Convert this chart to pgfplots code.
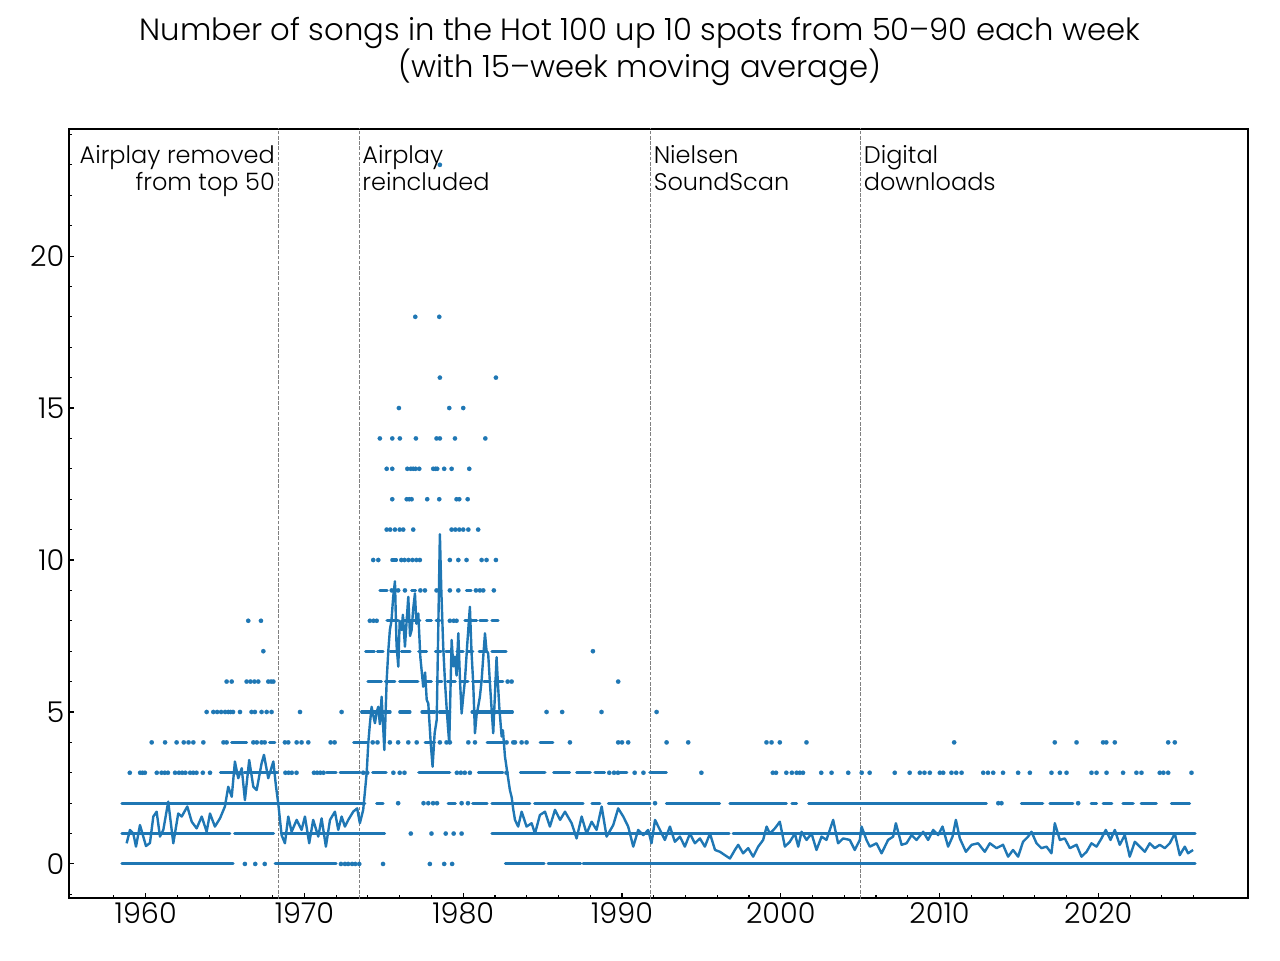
\documentclass[border=0pt]{standalone}
\usepackage{fontspec}
\IfFontExistsTF{Poppins Light}{\setmainfont{Poppins Light}}{\setmainfont{Poppins}}
\usepackage{pgfplots}
\pgfplotsset{compat=1.18}
\definecolor{tabblue}{HTML}{1F77B4}
\begin{document}
\begin{tikzpicture}
\useasboundingbox (0,0) rectangle (960pt,720pt);
\node[anchor=base, font=\fontsize{23}{27}\selectfont] at (480pt,689.25pt) {Number of songs in the Hot 100 up 10 spots from 50–90 each week};
\node[anchor=base, font=\fontsize{23}{27}\selectfont] at (480pt,661.5pt) {(with 15–week moving average)};
\begin{axis}[
  at={(51.75pt,46.5pt)}, anchor=south west, scale only axis,
  width=884.25pt, height=576.75pt,
  xmin=1955.17, xmax=2029.43, ymin=-1.12, ymax=24.18,
  axis line style={line width=1.1pt},
  tick align=inside, tick pos=left,
  xtick={1960,1970,...,2020},
  minor xtick={1958,1962,1964,1966,1968,1972,1974,1976,1978,1982,1984,1986,1988,1992,1994,1996,1998,2002,2004,2006,2008,2012,2014,2016,2018,2022,2024,2026},
  ytick={0,5,...,20},
  minor ytick={-1,0,...,24},
  major tick length=3.75pt, minor tick length=2.3pt,
  every tick/.style={black, line width=0.8pt},
  /pgf/number format/1000 sep={},
  /pgf/number format/assume math mode=true,
  tick label style={font=\fontsize{21.5}{24}\selectfont},
  unbounded coords=jump,
]
% vertical event lines
\addplot[gray, line width=0.6pt, dash pattern=on 2.6pt off 1.3pt] coordinates {(1968.37,-2)(1968.37,30)};
\addplot[gray, line width=0.6pt, dash pattern=on 2.6pt off 1.3pt] coordinates {(1973.45,-2)(1973.45,30)};
\addplot[gray, line width=0.6pt, dash pattern=on 2.6pt off 1.3pt] coordinates {(1991.80,-2)(1991.80,30)};
\addplot[gray, line width=0.6pt, dash pattern=on 2.6pt off 1.3pt] coordinates {(2005.03,-2)(2005.03,30)};

% dense runs of weekly points
\addplot[tabblue, line width=2.3pt, line cap=round, no marks] coordinates {
(1958.5,0)(1965.5,0)(nan,nan)(1968.15,0)(1972.0,0)(nan,nan)(1982.65,0)(1985.1,0)(nan,nan)(1985.35,0)(1987.4,0)(nan,nan)(1987.55,0)(2026.1,0)(nan,nan)
(1958.5,1)(1965.3,1)(nan,nan)(1965.6,1)(1968.05,1)(nan,nan)(1968.55,1)(1975.05,1)(nan,nan)(1981.8,1)(1996.75,1)(nan,nan)(1997.0,1)(2026.1,1)(nan,nan)
(1958.5,2)(1973.8,2)(nan,nan)(1974.55,2)(1974.95,2)(nan,nan)(1979.05,2)(1979.5,2)(nan,nan)(1980.6,2)(1981.5,2)(nan,nan)(1981.8,2)(1984.2,2)(nan,nan)
(1984.5,2)(1987.55,2)(nan,nan)(1988.1,2)(1988.6,2)(nan,nan)(1989.15,2)(1991.75,2)(nan,nan)(1992.8,2)(1996.15,2)(nan,nan)(1996.8,2)(2000.35,2)(nan,nan)
(2000.7,2)(2001.0,2)(nan,nan)(2001.75,2)(2012.95,2)(nan,nan)(2015.15,2)(2016.5,2)(nan,nan)(2016.95,2)(2018.4,2)(nan,nan)(2019.55,2)(2019.9,2)(nan,nan)
(2020.3,2)(2020.85,2)(nan,nan)(2021.55,2)(2022.2,2)(nan,nan)(2022.7,2)(2023.65,2)(nan,nan)(2024.6,2)(2025.75,2)(nan,nan)
(1964.7,3)(1965.5,3)(nan,nan)(1966.2,3)(1968.3,3)(nan,nan)(1971.4,3)(1972.0,3)(nan,nan)(1972.25,3)(1973.5,3)(nan,nan)(1974.3,3)(1975.15,3)(nan,nan)
(1977.2,3)(1979.15,3)(nan,nan)(1980.95,3)(1982.5,3)(nan,nan)(1983.6,3)(1985.15,3)(nan,nan)(1985.7,3)(1986.7,3)(nan,nan)(1987.15,3)(1988.0,3)(nan,nan)
(1988.3,3)(1988.9,3)(nan,nan)(1989.9,3)(1990.3,3)(nan,nan)(1991.75,3)(1992.8,3)(nan,nan)
(1965.42,4)(1966.36,4)(nan,nan)(1967.8,4)(1968.14,4)(nan,nan)(1973.1,4)(1973.95,4)(nan,nan)(1977.6,4)(1978.2,4)(nan,nan)(1981.5,4)(1982.5,4)(nan,nan)(1984.85,4)(1985.65,4)(nan,nan)
(1973.6,5)(1974.1,5)(nan,nan)(1974.3,5)(1975.4,5)(nan,nan)(1976.0,5)(1976.65,5)(nan,nan)(1977.4,5)(1978.2,5)(nan,nan)(1978.5,5)(1979.15,5)(nan,nan)(1980.55,5)(1983.1,5)(nan,nan)
(1974.0,6)(1974.85,6)(nan,nan)(1975.1,6)(1975.7,6)(nan,nan)(1976.0,6)(1977.15,6)(nan,nan)(1977.6,6)(1978.0,6)(nan,nan)(1978.35,6)(1978.65,6)(nan,nan)
(1979.0,6)(1979.5,6)(nan,nan)(1979.8,6)(1980.3,6)(nan,nan)(1980.6,6)(1981.05,6)(nan,nan)(1981.3,6)(1981.7,6)(nan,nan)(1982.0,6)(1982.5,6)(nan,nan)
(1973.85,7)(1974.4,7)(nan,nan)(1974.6,7)(1974.95,7)(nan,nan)(1975.4,7)(1975.9,7)(nan,nan)(1976.1,7)(1976.65,7)(nan,nan)(1977.2,7)(1977.7,7)(nan,nan)
(1978.25,7)(1978.6,7)(nan,nan)(1978.9,7)(1979.25,7)(nan,nan)(1979.6,7)(1980.0,7)(nan,nan)(1980.3,7)(1980.6,7)(nan,nan)(1981.0,7)(1981.5,7)(nan,nan)(1981.8,7)(1982.7,7)(nan,nan)
(1975.2,8)(1975.9,8)(nan,nan)(1976.2,8)(1977.27,8)(nan,nan)(1977.7,8)(1978.0,8)(nan,nan)(1978.3,8)(1978.53,8)(nan,nan)(1980.1,8)(1980.84,8)(nan,nan)(1981.05,8)(1981.5,8)(nan,nan)(1981.8,8)(1982.2,8)(nan,nan)
(1974.75,9)(1975.2,9)(nan,nan)(1976.75,9)(1977.0,9)(nan,nan)(1980.2,9)(1980.5,9)(nan,nan)
(1975.5,10)(1975.8,10)
};

% isolated weekly points
\addplot[only marks, color=tabblue, mark=*, mark size=1.65pt, mark options={solid, fill=tabblue, draw=tabblue, line width=0.1pt}] coordinates {
(1966.25,0)(1966.9,0)(1967.5,0)(1972.3,0)(1972.55,0)(1972.75,0)(1973.0,0)(1973.2,0)(1973.45,0)(1974.95,0)(1977.9,0)(1978.8,0)(1979.3,0)
(1976.7,1)(1978.0,1)(1978.9,1)(1979.4,1)(1979.9,1)
(1975.9,2)(1977.5,2)(1977.8,2)(1978.1,2)(1978.35,2)(1979.9,2)(1980.3,2)(1992.08,2)(2013.7,2)(2013.9,2)(2018.73,2)
(1959.0,3)(1959.65,3)(1959.8,3)(1959.95,3)(1960.7,3)(1961.0,3)(1961.2,3)(1961.4,3)(1961.85,3)(1962.1,3)(1962.3,3)(1962.5,3)(1962.8,3)(1963.0,3)(1963.2,3)(1963.6,3)(1964.05,3)
(1965.75,3)(1966.0,3)(1968.8,3)(1969.0,3)(1969.2,3)(1969.5,3)(1970.6,3)(1970.8,3)(1971.0,3)(1971.2,3)(1973.7,3)(1973.95,3)(1975.6,3)(1976.0,3)(1976.3,3)
(1979.6,3)(1979.85,3)(1980.1,3)(1980.42,3)(1982.73,3)(1989.2,3)(1989.5,3)(1989.75,3)(1990.8,3)(1991.35,3)(1995.0,3)(1999.5,3)(1999.7,3)(2000.35,3)(2000.7,3)
(2001.0,3)(2001.2,3)(2001.4,3)(2002.55,3)(2003.2,3)(2004.25,3)(2005.1,3)(2005.6,3)(2007.18,3)(2008.12,3)(2008.76,3)(2009.05,3)(2009.39,3)(2010.02,3)(2010.23,3)
(2010.75,3)(2011.05,3)(2011.39,3)(2012.75,3)(2013.05,3)(2013.38,3)(2014.0,3)(2014.95,3)(2015.69,3)(2017.05,3)(2017.58,3)(2018.0,3)(2019.57,3)(2019.89,3)
(2020.52,3)(2021.56,3)(2022.4,3)(2022.72,3)(2023.87,3)(2024.1,3)(2024.4,3)(2025.87,3)
(1960.38,4)(1961.22,4)(1961.95,4)(1962.4,4)(1962.7,4)(1963.0,4)(1963.63,4)(1964.9,4)(1965.1,4)(1966.78,4)(1967.0,4)(1967.3,4)(1967.5,4)(1968.77,4)(1968.98,4)
(1969.51,4)(1969.82,4)(1970.24,4)(1971.65,4)(1971.9,4)(1974.3,4)(1974.6,4)(1975.38,4)(1975.9,4)(1976.54,4)(1977.07,4)(1978.53,4)(1978.95,4)(1979.16,4)
(1980.32,4)(1980.74,4)(1982.73,4)(1983.15,4)(1983.26,4)(1983.68,4)(1983.99,4)(1986.72,4)(1989.76,4)(1990.0,4)(1990.39,4)(1992.81,4)(1994.17,4)(1999.1,4)
(1999.42,4)(1999.94,4)(2001.62,4)(2010.92,4)(2017.26,4)(2018.63,4)(2020.3,4)(2020.5,4)(2021.04,4)(2024.4,4)(2024.82,4)
(1963.84,5)(1964.26,5)(1964.5,5)(1964.75,5)(1965.0,5)(1965.2,5)(1965.35,5)(1965.5,5)(1965.94,5)(1966.67,5)(1966.88,5)(1967.3,5)(1967.62,5)(1967.93,5)
(1969.72,5)(1972.34,5)(1985.25,5)(1986.23,5)(1988.71,5)(1992.18,5)
(1965.1,6)(1965.42,6)(1966.36,6)(1966.6,6)(1966.85,6)(1967.09,6)(1967.72,6)(1967.9,6)(1968.04,6)(1982.8,6)(1983.05,6)(1989.76,6)
(1967.41,7)(1988.17,7)
(1966.46,8)(1967.26,8)(1974.12,8)(1974.35,8)(1974.55,8)(1979.16,8)(1979.4,8)(1979.58,8)
(1975.5,9)(1975.7,9)(1975.9,9)(1976.33,9)(1977.3,9)(1977.59,9)(1978.32,9)(1978.53,9)(1979.16,9)(1979.69,9)(1980.8,9)(1981.05,9)(1981.26,9)(1981.93,9)
(1974.33,10)(1974.65,10)(1976.1,10)(1976.3,10)(1976.55,10)(1976.8,10)(1977.05,10)(1977.27,10)(1979.16,10)(1979.69,10)(1980.21,10)(1981.16,10)(1981.47,10)(1982.06,10)
(1975.18,11)(1975.4,11)(1975.7,11)(1976.0,11)(1976.22,11)(1976.85,11)(1979.27,11)(1979.5,11)(1979.75,11)(1980.0,11)(1980.32,11)(1980.94,11)
(1975.53,12)(1976.44,12)(1976.6,12)(1976.75,12)(1977.73,12)(1978.49,12)(1979.58,12)(1979.75,12)(1980.28,12)
(1975.18,13)(1975.53,13)(1976.48,13)(1976.7,13)(1976.85,13)(1977.0,13)(1977.23,13)(1978.11,13)(1978.25,13)(1978.36,13)(1978.8,13)(1979.27,13)(1980.38,13)
(1974.75,14)(1975.53,14)(1976.01,14)(1977.02,14)(1978.32,14)(1978.53,14)(1979.48,14)(1981.39,14)
(1975.95,15)(1979.12,15)(1980.0,15)
(1978.53,16)(1982.06,16)
(1976.98,18)(1978.49,18)
(1978.53,23)
};

% 15-week moving average
\addplot[tabblue, line width=1.8pt, no marks, line join=round] coordinates {
(1958.80,0.68)(1959.01,1.12)(1959.22,1.0)(1959.39,0.57)(1959.64,1.28)(1959.85,0.9)(1960.02,0.59)(1960.27,0.69)(1960.48,1.56)(1960.69,1.72)(1960.90,0.9)
(1961.11,1.12)(1961.42,2.05)(1961.74,0.68)(1962.05,1.66)(1962.27,1.56)(1962.62,1.89)(1962.90,1.39)(1963.21,1.17)(1963.53,1.56)(1963.84,1.06)(1964.05,1.66)
(1964.36,1.23)(1964.68,1.5)(1964.99,1.89)(1965.20,2.54)(1965.42,2.21)(1965.62,3.37)(1965.83,2.82)(1966.05,3.15)(1966.25,2.1)(1966.52,3.42)(1966.78,2.54)
(1966.99,2.43)(1967.30,3.31)(1967.45,3.59)(1967.72,2.82)(1968.04,3.37)(1968.21,2.54)(1968.35,1.99)(1968.56,0.95)(1968.77,0.68)(1968.98,1.56)(1969.19,1.06)
(1969.51,1.45)(1969.82,1.12)(1970.03,1.56)(1970.30,0.68)(1970.55,1.45)(1970.87,0.9)(1971.08,1.5)(1971.35,0.57)(1971.61,1.45)(1971.92,1.72)(1972.13,1.12)
(1972.34,1.56)(1972.55,1.23)(1972.76,1.45)(1973.07,1.72)(1973.32,1.83)(1973.49,1.34)(1973.70,1.78)(1973.80,2.33)(1973.92,3.0)(1974.02,3.97)(1974.12,4.6)
(1974.23,5.17)(1974.33,4.9)(1974.44,4.63)(1974.55,5.0)(1974.65,5.17)(1974.75,4.6)(1974.86,5.5)(1974.95,4.6)(1975.03,3.75)(1975.10,4.8)(1975.18,6.05)
(1975.28,7.0)(1975.38,7.7)(1975.48,8.0)(1975.59,8.79)(1975.70,9.3)(1975.80,7.2)(1975.91,6.49)(1976.00,8.0)(1976.12,7.7)(1976.20,8.2)(1976.33,7.15)
(1976.45,8.1)(1976.54,8.79)(1976.65,7.5)(1976.75,7.7)(1976.85,8.4)(1976.96,8.9)(1977.05,7.9)(1977.17,8.24)(1977.30,6.8)(1977.48,5.83)(1977.60,6.3)
(1977.70,5.4)(1977.80,5.28)(1977.95,4.0)(1978.07,3.2)(1978.20,4.3)(1978.33,4.74)(1978.42,7.5)(1978.53,10.85)(1978.62,9.0)(1978.74,7.15)(1978.85,6.0)
(1978.95,5.17)(1979.04,4.5)(1979.12,3.97)(1979.20,5.8)(1979.27,7.37)(1979.38,6.5)(1979.48,6.82)(1979.58,6.2)(1979.69,7.59)(1979.80,6.0)(1979.90,4.95)
(1980.00,5.5)(1980.11,6.05)(1980.25,7.2)(1980.42,8.46)(1980.52,7.0)(1980.63,5.94)(1980.74,4.3)(1980.84,4.9)(1980.94,5.17)(1981.05,5.5)(1981.16,6.05)
(1981.26,6.8)(1981.37,7.59)(1981.47,7.0)(1981.57,6.93)(1981.70,5.8)(1981.80,5.0)(1981.89,4.3)(1982.00,5.6)(1982.10,6.8)(1982.18,6.0)(1982.27,5.17)
(1982.42,4.19)(1982.50,4.4)(1982.63,3.53)(1982.75,3.1)(1982.94,2.43)(1983.05,2.2)(1983.15,1.8)(1983.26,1.45)(1983.46,1.23)(1983.68,1.72)(1983.99,1.23)
(1984.31,1.34)(1984.52,1.0)(1984.83,1.61)(1985.15,1.72)(1985.46,1.23)(1985.78,1.78)(1986.10,1.45)(1986.41,1.72)(1986.83,1.34)(1987.14,0.84)(1987.46,1.56)
(1987.77,1.0)(1988.09,1.39)(1988.40,1.12)(1988.72,1.89)(1989.03,0.9)(1989.45,1.28)(1989.76,1.83)(1990.08,1.56)(1990.39,1.23)(1990.71,0.57)(1991.02,1.12)
(1991.34,0.95)(1991.65,1.12)(1991.86,0.68)(1992.08,1.45)(1992.39,1.12)(1992.70,0.79)(1993.02,1.23)(1993.33,0.73)(1993.65,0.9)(1993.96,0.57)(1994.28,1.0)
(1994.59,0.68)(1994.91,0.84)(1995.22,0.57)(1995.54,1.0)(1995.86,0.46)(1996.17,0.4)(1996.48,0.29)(1996.80,0.18)(1997.11,0.46)(1997.32,0.63)(1997.63,0.35)
(1997.95,0.52)(1998.26,0.24)(1998.58,0.57)(1998.89,0.79)(1999.11,1.23)(1999.31,1.0)(1999.63,1.17)(1999.94,1.39)(2000.26,0.57)(2000.57,0.73)(2000.89,1.0)
(2001.10,0.57)(2001.31,1.06)(2001.62,0.79)(2001.94,1.0)(2002.25,0.46)(2002.57,0.9)(2002.88,0.79)(2003.30,1.45)(2003.61,0.68)(2003.93,0.84)(2004.35,0.79)
(2004.66,0.46)(2004.98,0.79)(2005.09,1.23)(2005.40,0.79)(2005.61,0.57)(2006.03,0.68)(2006.35,0.35)(2006.76,0.79)(2007.08,0.9)(2007.25,1.34)(2007.61,0.63)
(2007.92,0.68)(2008.24,0.95)(2008.55,0.79)(2008.97,1.06)(2009.28,0.79)(2009.60,1.12)(2009.91,0.95)(2010.19,1.23)(2010.54,0.57)(2010.82,0.9)(2011.03,1.45)
(2011.28,0.84)(2011.66,0.4)(2012.02,0.63)(2012.43,0.68)(2012.85,0.4)(2013.17,0.68)(2013.59,0.52)(2014.00,0.63)(2014.32,0.24)(2014.63,0.46)(2014.95,0.24)
(2015.26,0.73)(2015.58,0.9)(2015.79,1.06)(2016.11,0.68)(2016.42,0.52)(2016.74,0.57)(2017.05,0.35)(2017.26,1.34)(2017.58,0.79)(2017.89,0.84)(2018.21,0.52)
(2018.63,0.63)(2018.94,0.24)(2019.26,0.4)(2019.57,0.68)(2019.89,0.57)(2020.20,0.84)(2020.47,1.12)(2020.77,0.79)(2021.04,1.12)(2021.35,0.63)(2021.67,0.95)
(2021.98,0.24)(2022.30,0.73)(2022.61,0.57)(2022.93,0.4)(2023.24,0.68)(2023.56,0.52)(2023.87,0.63)(2024.19,0.52)(2024.50,0.68)(2024.82,1.0)(2025.13,0.29)
(2025.45,0.57)(2025.65,0.35)(2025.97,0.46)
};

% annotations
\node[anchor=base east, inner sep=0pt, xshift=-2.6pt, font=\fontsize{18}{20}\selectfont] at (axis cs:1968.37,23.06) {Airplay removed};
\node[anchor=base east, inner sep=0pt, xshift=-2.6pt, font=\fontsize{18}{20}\selectfont] at (axis cs:1968.37,22.15) {from top 50};
\node[anchor=base west, inner sep=0pt, xshift=2.2pt, font=\fontsize{18}{20}\selectfont] at (axis cs:1973.45,23.06) {Airplay};
\node[anchor=base west, inner sep=0pt, xshift=2.2pt, font=\fontsize{18}{20}\selectfont] at (axis cs:1973.45,22.15) {reincluded};
\node[anchor=base west, inner sep=0pt, xshift=2.2pt, font=\fontsize{18}{20}\selectfont] at (axis cs:1991.80,23.06) {Nielsen};
\node[anchor=base west, inner sep=0pt, xshift=2.2pt, font=\fontsize{18}{20}\selectfont] at (axis cs:1991.80,22.15) {SoundScan};
\node[anchor=base west, inner sep=0pt, xshift=2.2pt, font=\fontsize{18}{20}\selectfont] at (axis cs:2005.03,23.06) {Digital};
\node[anchor=base west, inner sep=0pt, xshift=2.2pt, font=\fontsize{18}{20}\selectfont] at (axis cs:2005.03,22.15) {downloads};
\end{axis}
\end{tikzpicture}
\end{document}
